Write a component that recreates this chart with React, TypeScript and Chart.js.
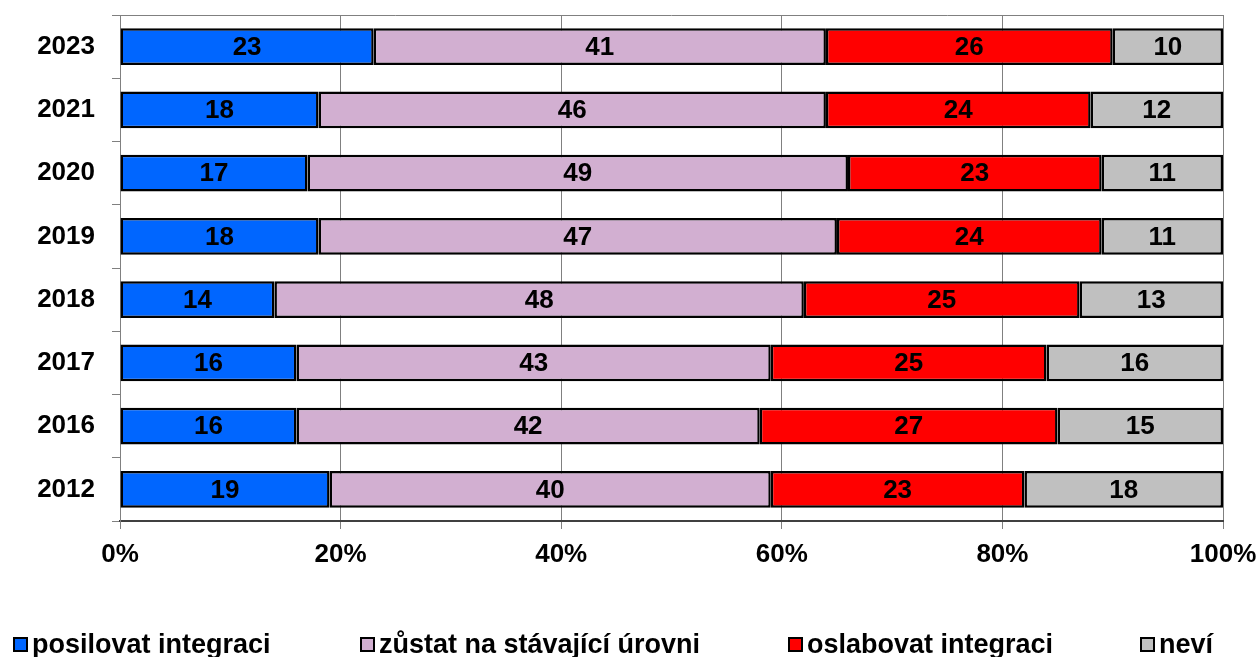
import React, { useEffect, useRef } from "react";
import { Chart, registerables } from "chart.js";

Chart.register(...registerables);

const years = ["2023", "2021", "2020", "2019", "2018", "2017", "2016", "2012"];
const posilovat = [23, 18, 17, 18, 14, 16, 16, 19];
const zustat = [41, 46, 49, 47, 48, 43, 42, 40];
const oslabovat = [26, 24, 23, 24, 25, 25, 27, 23];
const nevi = [10, 12, 11, 11, 13, 16, 15, 18];
const seriesNames = ["posilovat integraci", "zůstat na stávající úrovni", "oslabovat integraci", "neví"];
const seriesColors = ["#0066FF", "#D2AFD1", "#FF0000", "#C0C0C0"];
const xTicks = [0, 20, 40, 60, 80, 100];

const FONT = "'Liberation Sans', Arial, sans-serif";

const labelPlugin = {
  id: "barLabels",
  beforeDatasetsDraw(chart: any) {
    const { ctx, chartArea } = chart;
    ctx.save();
    ctx.strokeStyle = "#808080";
    ctx.lineWidth = 1;
    ctx.beginPath();
    ctx.moveTo(chartArea.left, chartArea.top + 0.5);
    ctx.lineTo(chartArea.right, chartArea.top + 0.5);
    ctx.stroke();
    ctx.restore();
  },
  afterDatasetsDraw(chart: any) {
    const { ctx } = chart;
    ctx.save();
    ctx.font = `bold 26px ${FONT}`;
    ctx.fillStyle = "#000";
    ctx.textAlign = "center";
    ctx.textBaseline = "middle";
    chart.data.datasets.forEach((ds: any, i: number) => {
      const meta = chart.getDatasetMeta(i);
      meta.data.forEach((el: any, j: number) => {
        const x = (el.x + el.base) / 2;
        ctx.fillText(String(ds.data[j]), x, el.y + 1);
      });
    });
    ctx.restore();
  },
};

export default function App() {
  const ref = useRef<HTMLCanvasElement | null>(null);

  useEffect(() => {
    if (!ref.current) return;
    const data = [posilovat, zustat, oslabovat, nevi];
    const chart = new Chart(ref.current, {
      type: "bar",
      data: {
        labels: years,
        datasets: data.map((d, i) => ({
          label: seriesNames[i],
          data: d,
          backgroundColor: seriesColors[i],
          borderColor: "#000",
          borderWidth: 2.5,
          borderSkipped: false,
          barPercentage: 0.58,
          categoryPercentage: 1,
        })),
      },
      options: {
        indexAxis: "y",
        responsive: false,
        animation: false,
        devicePixelRatio: 1,
        layout: { padding: { top: 15, left: 0, right: 35, bottom: 86 } },
        plugins: {
          legend: { display: false },
          tooltip: { enabled: false },
        },
        scales: {
          x: {
            stacked: true,
            min: 0,
            max: 100,
            afterBuildTicks(scale: any) {
              scale.ticks = xTicks.map((v) => ({ value: v }));
            },
            afterFit(scale: any) {
              scale.height = 50;
              scale.paddingLeft = 0;
              scale.paddingRight = 0;
            },
            ticks: {
              callback: (v: any) => v + "%",
              color: "#000",
              font: { family: FONT, size: 26, weight: "bold" },
              padding: 10,
              maxRotation: 0,
            },
            grid: { color: "#808080", lineWidth: 1, tickLength: 8 },
            border: { color: "#404040", width: 2 },
          },
          y: {
            stacked: true,
            afterFit(scale: any) {
              scale.width = 120;
              scale.paddingTop = 0;
              scale.paddingBottom = 0;
            },
            ticks: {
              color: "#000",
              font: { family: FONT, size: 26, weight: "bold" },
              padding: 17,
            },
            grid: { drawOnChartArea: false, color: "#808080", tickLength: 8, offset: true },
            border: { color: "#808080", width: 1 },
          },
        },
      },
      plugins: [labelPlugin],
    });
    return () => chart.destroy();
  }, []);

  const legendLeft = [13, 360, 788, 1140];

  return (
    <div style={{ position: "absolute", left: 0, top: 0, width: 1258, height: 657, overflow: "hidden", background: "#fff" }}>
      <canvas ref={ref} width={1258} height={657} style={{ width: 1258, height: 657, display: "block" }} />
      {seriesNames.map((name, i) => (
        <div
          key={name}
          style={{
            position: "absolute",
            left: legendLeft[i],
            top: 629,
            height: 30,
            display: "flex",
            alignItems: "center",
            fontFamily: FONT,
            fontWeight: "bold",
            fontSize: 27,
            color: "#000",
            whiteSpace: "nowrap",
          }}
        >
          <span
            style={{
              display: "inline-block",
              width: 11,
              height: 11,
              background: seriesColors[i],
              border: "2px solid #000",
              marginRight: 4,
            }}
          />
          <span>{name}</span>
        </div>
      ))}
    </div>
  );
}
